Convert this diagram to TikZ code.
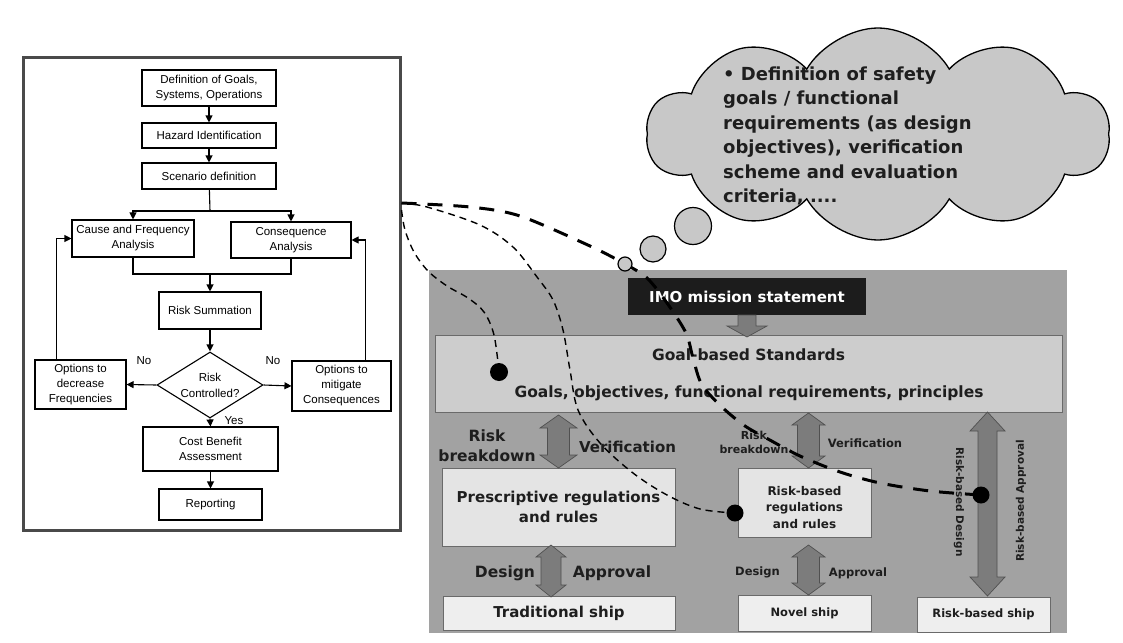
\documentclass[tikz,border=0pt]{standalone}
\usepackage{fontspec}
\setmainfont{Liberation Sans}
\newfontfamily\djv{DejaVu Sans}
\usetikzlibrary{arrows.meta,shapes.geometric,shapes.symbols}

\definecolor{framegray}{HTML}{4A4A4A}
\definecolor{panelgray}{HTML}{A2A2A2}
\definecolor{goalgray}{HTML}{CDCDCD}
\definecolor{lightbox}{HTML}{E4E4E4}
\definecolor{shipbox}{HTML}{EEEEEE}
\definecolor{boxedge}{HTML}{6A6A6A}
\definecolor{arrowgray}{HTML}{7C7C7C}
\definecolor{arrowedge}{HTML}{505050}
\definecolor{imoblack}{HTML}{1C1C1C}
\definecolor{bubblegray}{HTML}{C8C8C8}
\definecolor{txtdark}{HTML}{1E1E1E}

% bold sans text at a given size / baseline skip
\newcommand\rbold[2]{\djv\bfseries\fontsize{#1}{#2}\selectfont}
% vertical two-headed block arrow: centre x, top y, bottom y, head half-width, shaft half-width, head length
\newcommand\vdarrow[6]{%
  \filldraw[blockarrow] (#1,#2) -- (#1+#4,#2+#6) -- (#1+#5,#2+#6) -- (#1+#5,#3-#6)
    -- (#1+#4,#3-#6) -- (#1,#3) -- (#1-#4,#3-#6) -- (#1-#5,#3-#6) -- (#1-#5,#2+#6)
    -- (#1-#4,#2+#6) -- cycle;}

\begin{document}
\begin{tikzpicture}[x=1pt,y=-1pt,
  fbox/.style={draw, line width=1.1pt, fill=white, align=center, inner sep=1pt,
               font=\fontsize{11.5}{15}\selectfont},
  farr/.style={line width=1.1pt, -{Triangle[length=7pt,width=7pt]}},
  fline/.style={line width=1.1pt},
  flbl/.style={font=\fontsize{11.5}{14}\selectfont},
  gbox/.style={draw=boxedge, line width=0.6pt, inner sep=0pt},
  btxt/.style={font=\rbold{15.5}{20}, text=txtdark, align=center},
  stxt/.style={font=\rbold{11.5}{16.5}, text=txtdark, align=center},
  blockarrow/.style={fill=arrowgray, draw=arrowedge, line width=0.7pt},
  bigdash/.style={line width=3pt, dash pattern=on 15pt off 11pt},
  thindash/.style={line width=1.4pt, dash pattern=on 7pt off 5pt},
  dot/.style={circle, fill=black, inner sep=0pt},
  bubble/.style={circle, draw, line width=1.2pt, fill=bubblegray, inner sep=0pt},
]
\fill[white] (0,0) rectangle (1123,642);
\useasboundingbox (0,0) rectangle (1123,642);

% ---------------- FSA flowchart panel ----------------
\node[draw=framegray, line width=3pt, fill=white, minimum width=377pt,
      minimum height=472pt, inner sep=0pt] (lp) at (211.5,294) {};

\node[fbox, minimum width=134pt, minimum height=36pt] (def) at (209,88) {Definition of Goals,\\Systems, Operations};
\node[fbox, minimum width=134pt, minimum height=25pt] (haz) at (209,135.5) {Hazard Identification};
\node[fbox, minimum width=134pt, minimum height=26pt] (scn) at (209,176) {Scenario definition};
\node[fbox, minimum width=122pt, minimum height=37pt] (cfa) at (133,238.5) {Cause and Frequency\\Analysis};
\node[fbox, minimum width=120pt, minimum height=36pt] (con) at (291,240) {Consequence\\Analysis};
\node[fbox, minimum width=102pt, minimum height=37pt] (rsum) at (210,310.5) {Risk Summation};
\node[diamond, draw, line width=1.1pt, fill=white, inner sep=0pt, shape aspect=1.6,
      minimum width=106pt, minimum height=66pt,
      label={[align=center, font=\fontsize{11.5}{16}\selectfont]center:Risk\\Controlled?}] (rc) at (210,385) {};
\node[fbox, minimum width=91pt, minimum height=49pt] (odf) at (80.5,384.5) {Options to\\decrease\\Frequencies};
\node[fbox, minimum width=99pt, minimum height=50pt] (omc) at (341.5,386) {Options to\\mitigate\\Consequences};
\node[fbox, minimum width=135pt, minimum height=44pt] (cba) at (210.5,449) {Cost Benefit\\Assessment};
\node[fbox, minimum width=103pt, minimum height=31pt] (rep) at (210.5,504.5) {Reporting};

\node[flbl] (no1) at (144,361) {No};
\node[flbl] (no2) at (273,361) {No};
\node[flbl] (yes) at (234,421) {Yes};

\coordinate (split) at (210,211);
\coordinate (join) at (210,274);
\draw[farr] (def) -- (haz);
\draw[farr] (haz) -- (scn);
\draw[fline] (scn) -- (split);
\draw[farr] (split) -| (cfa.north);
\draw[farr] (split) -| (con.north);
\draw[fline] (cfa.south) |- (join) -| (con.south);
\draw[farr] (join) -- (rsum);
\draw[farr] (rsum) -- (rc.north);
\draw[farr] (rc.west) -- (odf.east);
\draw[farr] (rc.east) -- (omc.west);
\draw[farr] (rc.south) -- (cba.north);
\draw[farr] (cba) -- (rep);
\draw[farr] ([xshift=22pt]odf.north west) |- (cfa.west);
\draw[farr] ([xshift=-26pt]omc.north east) |- (con.east);

% ---------------- goal-based standards panel ----------------
\node[fill=panelgray, minimum width=638pt, minimum height=363pt, inner sep=0pt] (rp) at (748,451.5) {};

\node[fill=imoblack, minimum width=238pt, minimum height=37pt, inner sep=0pt,
      text=white, font=\rbold{15}{18}] (imo) at (747,296.5) {IMO mission statement};
\node[gbox, fill=goalgray, minimum width=627pt, minimum height=77pt] (gbs) at (748.5,373.5) {};
\node[btxt] (gbt) at (748.5,355) {Goal-based Standards};
\node[btxt] (gbo) at (749,393) {Goals, objectives, functional requirements, principles};
\filldraw[blockarrow] (738,315) -- (756,315) -- (756,326) -- (767,326) -- (747,337)
  -- (727,326) -- (738,326) -- cycle;

% prescriptive column
\node[gbox, fill=lightbox, minimum width=233pt, minimum height=78pt] (pres) at (558.5,507) {};
\node[btxt, font=\rbold{15}{20}] (prest) at (558.5,507) {Prescriptive regulations\\and rules};
\node[gbox, fill=shipbox, minimum width=232pt, minimum height=34pt] (trad) at (559,613) {};
\node[btxt, font=\rbold{15}{18}] (tradt) at (559,613) {Traditional ship};
\vdarrow{558.5}{415}{468}{18.5}{11}{13}
\vdarrow{551}{545}{597}{15}{10}{12}
\node[btxt] (rb1) at (487,446) {Risk\\breakdown};
\node[btxt, font=\rbold{15}{18}] (ver1) at (627.5,447) {Verification};
\node[btxt] (des1) at (505,573) {Design};
\node[btxt] (app1) at (612,573) {Approval};

% risk-based regulation column
\node[gbox, fill=lightbox, minimum width=133pt, minimum height=69pt] (rbr) at (804.5,502.5) {};
\node[stxt, font=\rbold{12}{16.5}] (rbrt) at (804.5,507.5) {Risk-based\\regulations\\and rules};
\node[gbox, fill=shipbox, minimum width=133pt, minimum height=36pt] (nov) at (804.5,613) {};
\node[stxt] (novt) at (804.5,613) {Novel ship};
\vdarrow{808.5}{413}{468}{16.5}{11}{12}
\vdarrow{808.5}{545}{595}{16.5}{11}{12}
\node[stxt, font=\rbold{11}{14}] (rb2) at (754,442) {Risk\\breakdown};
\node[stxt] (ver2) at (865,443) {Verification};
\node[stxt] (des2) at (757.5,572) {Design};
\node[stxt] (app2) at (858,573) {Approval};

% risk-based design column
\node[gbox, fill=shipbox, minimum width=133pt, minimum height=35pt] (rbs) at (983.5,614.5) {};
\node[stxt] (rbst) at (983.5,614.5) {Risk-based ship};
\vdarrow{987.5}{412}{596}{17.5}{9.5}{19}
\node[stxt, font=\rbold{10.5}{12}, rotate=-90] (rbd) at (959,502) {Risk-based Design};
\node[stxt, font=\rbold{10.5}{12}, rotate=90] (rba) at (1021,501) {Risk-based Approval};

% ---------------- links between the two panels ----------------
\path (lp.east) ++(0,-91) coordinate (s1);
\path (lp.east) ++(0,-84) coordinate (s2);
\coordinate (pb1) at (625,264);
\coordinate (pA) at (499,372);
\coordinate (pB) at (735,513);
\coordinate (pC) at (981,495);

\draw[thindash] plot[smooth, tension=0.55] coordinates {(s2) (405,230) (414,252) (428,271)
  (447,286) (468,298) (484,312) (494,335) (pA)};
\draw[thindash] plot[smooth, tension=0.55] coordinates {(s1) (427,207) (480,225) (513,247)
  (537,277) (553,300) (563,330) (570,370) (578,410) (600,443) (633,473) (667,495) (700,509) (pB)};
\draw[bigdash] plot[smooth, tension=0.5] coordinates {(s1) (470,207) (520,216) (590,246) (pb1)
  (647,278) (667,303) (686,333) (693,358) (702,385) (723,408) (745,426) (768,439) (800,456)
  (840,472) (880,483) (930,491) (pC)};

\node[dot, minimum size=18pt] (dA) at (pA) {};
\node[dot, minimum size=17pt] (dB) at (pB) {};
\node[dot, minimum size=17pt] (dC) at (pC) {};

% ---------------- thought cloud ----------------
\node[bubble, minimum size=14pt] (b1) at (pb1) {};
\node[bubble, minimum size=26pt] (b2) at (653,249) {};
\node[bubble, minimum size=37pt] (b3) at (693,226) {};
\node[cloud, cloud puffs=10, cloud puff arc=120, cloud ignores aspect, draw, line width=1.3pt,
      fill=bubblegray, minimum width=463pt, minimum height=212pt, inner sep=0pt] (cld) at (878,134) {};
\node[anchor=west, align=left, inner sep=0pt, text=txtdark, font=\rbold{18}{24.5}] (cldt) at (723,136)
  {• Definition of safety\\goals / functional\\requirements (as design\\objectives), verification\\scheme and evaluation\\criteria, ....};
\end{tikzpicture}
\end{document}
